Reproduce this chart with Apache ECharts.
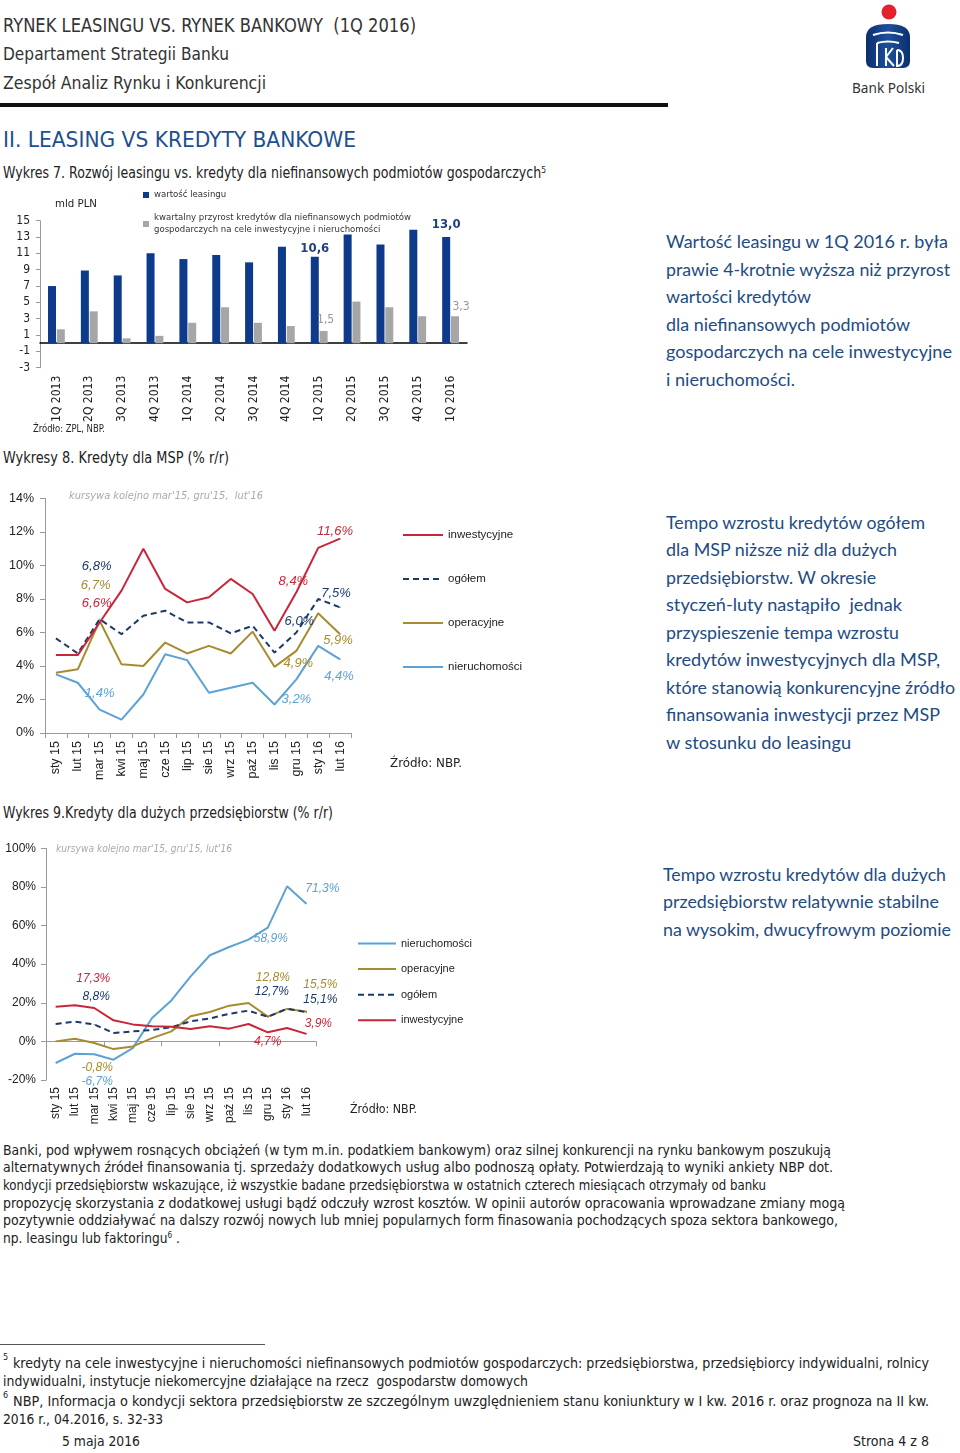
<!DOCTYPE html>
<html><head><meta charset="utf-8">
<script src="https://cdn.jsdelivr.net/npm/echarts@6/dist/echarts.min.js"></script>
<style>
html,body{margin:0;padding:0;background:#fff;}
#page{position:relative;width:960px;height:1453px;overflow:hidden;font-family:"Liberation Sans Narrow","DejaVu Sans Condensed","Liberation Sans",sans-serif;color:#222;}
.t{position:absolute;white-space:nowrap;transform-origin:0 50%;}
.sup{font-size:0.6em;position:relative;top:-0.55em;}
.c{position:absolute;}
.blue{font-family:Lato,"Open Sans",sans-serif;color:#1e4b82;}
</style></head><body><div id="page">
<div style="position:absolute;left:0;top:103px;width:668px;height:4px;background:#111;"></div>
<div style="position:absolute;left:0;top:1344px;width:265px;height:1px;background:#555;"></div>
<svg style="position:absolute;left:850px;top:0" width="110" height="100" viewBox="0 0 110 100">
  <defs><linearGradient id="g" x1="0" x2="1" y1="0" y2="0"><stop offset="0" stop-color="#0b2f6e"/><stop offset="0.5" stop-color="#1d4f9c"/><stop offset="1" stop-color="#0b2f6e"/></linearGradient></defs>
  <circle cx="39" cy="12" r="7.5" fill="#e3232c"/>
  <path d="M16,37 Q16,24 38,24 Q60,24 60,37 L60,61 Q60,68 53,68 L23,68 Q16,68 16,61 Z" fill="url(#g)"/>
  <path d="M23,35 Q38,30 53,35" stroke="#fff" stroke-width="2.2" fill="none"/>
  <path d="M27,43 L27,66 M27,43 Q38,40 49,43" stroke="#fff" stroke-width="2" fill="none"/>
  <path d="M36,48 L36,66 M36,57 L43,48 M36,57 L44,66" stroke="#fff" stroke-width="2" fill="none"/>
  <path d="M47,50 L47,66 Q53,66 53,58 Q53,50 47,50" stroke="#fff" stroke-width="2" fill="none"/>
</svg>
<div id="c1" class="c" style="left:0;top:185px;width:480px;height:250px;"></div>
<div id="c2" class="c" style="left:0;top:480px;width:560px;height:310px;"></div>
<div id="c3" class="c" style="left:0;top:830px;width:560px;height:300px;"></div>
</div>
<script>
// ---------- DATA ----------
const quarters = ['1Q 2013','2Q 2013','3Q 2013','4Q 2013','1Q 2014','2Q 2014','3Q 2014','4Q 2014','1Q 2015','2Q 2015','3Q 2015','4Q 2015','1Q 2016'];
const leasingValue = [7.0, 8.9, 8.3, 11.0, 10.3, 10.8, 9.9, 11.8, 10.6, 13.3, 12.1, 13.9, 13.0];
const creditGrowth = [1.7, 3.9, 0.6, 0.9, 2.5, 4.4, 2.5, 2.1, 1.5, 5.1, 4.4, 3.3, 3.3];
const leasingTicks = [-3, -1, 1, 3, 5, 7, 9, 11, 13, 15];
const leasingLabelled = [8, 12];

const months = ['sty 15','lut 15','mar 15','kwi 15','maj 15','cze 15','lip 15','sie 15','wrz 15','paź 15','lis 15','gru 15','sty 16','lut 16'];
const mspInwestycyjne = [4.65, 4.65, 6.6, 8.5, 11.0, 8.6, 7.8, 8.1, 9.2, 8.3, 6.1, 8.4, 11.05, 11.6];
const mspOgolem = [5.65, 4.75, 6.8, 5.9, 7.0, 7.3, 6.6, 6.6, 5.95, 6.4, 4.8, 6.0, 8.0, 7.5];
const mspOperacyjne = [3.6, 3.8, 6.7, 4.1, 4.0, 5.4, 4.75, 5.2, 4.75, 6.05, 3.95, 4.9, 7.15, 5.9];
const mspNieruchomosci = [3.5, 3.0, 1.4, 0.8, 2.3, 4.7, 4.35, 2.4, 2.7, 3.0, 1.7, 3.2, 5.2, 4.4];

const dpNieruchomosci = [-11.2, -6.4, -6.7, -9.5, -3.5, 12.1, 21.2, 33.7, 44.6, 48.9, 52.7, 58.9, 80.3, 71.3];
const dpOperacyjne = [0.0, 1.4, -0.8, -4.0, -2.6, 1.7, 5.2, 13.0, 15.2, 18.5, 19.9, 12.8, 16.8, 15.5];
const dpOgolem = [9.0, 10.2, 8.8, 4.3, 5.2, 5.9, 7.4, 10.4, 11.9, 14.3, 15.9, 12.7, 16.9, 15.1];
const dpInwestycyjne = [18.0, 18.7, 17.3, 10.9, 8.8, 7.8, 7.6, 6.4, 7.8, 6.6, 9.0, 4.7, 6.9, 3.9];
const labelledMonths = [2, 11, 13];

// ---------- TEXT ----------
const page = document.getElementById('page');
function put(x, y, size, width, html, cls, style) {
  const d = document.createElement('div');
  d.className = 't ' + (cls || '');
  const lh = Math.round(size * 1.25);
  d.style.left = x + 'px';
  d.style.fontSize = size + 'px';
  d.style.lineHeight = lh + 'px';
  d.style.top = (y - lh / 2) + 'px';
  Object.assign(d.style, style || {});
  d.innerHTML = html;
  page.appendChild(d);
  if (width) { const w = d.getBoundingClientRect().width; if (w > 0) d.style.transform = 'scaleX(' + (width / w) + ')'; }
}
put(3, 25, 20, 413, 'RYNEK LEASINGU VS. RYNEK BANKOWY&nbsp; (1Q 2016)', '', {color:'#333'});
put(3, 53, 18, 226, 'Departament Strategii Banku', '', {color:'#333'});
put(3, 82, 18, 263, 'Zespół Analiz Rynku i Konkurencji', '', {color:'#333'});
put(3, 140, 22, 353, 'II. LEASING VS KREDYTY BANKOWE', '', {color:'#1d4f91'});
put(3, 173, 15, 543, 'Wykres 7. Rozwój leasingu vs. kredyty dla niefinansowych podmiotów gospodarczych<span class="sup">5</span>', '', {color:'#222'});
put(3, 458, 15, 226, 'Wykresy 8. Kredyty dla MSP (% r/r)');
put(3, 813, 15, 330, 'Wykres 9.Kredyty dla dużych przedsiębiorstw (% r/r)');

put(55, 204, 11, 42, 'mld PLN');
put(33, 428, 10, 72, 'Źródło: ZPL, NBP.');
put(390, 763, 12, 72, 'Źródło: NBP.');
put(350, 1109, 11.5, 67, 'Źródło: NBP.');
put(69, 496, 11, 194, "kursywa kolejno mar'15, gru'15,&nbsp; lut'16", '', {color:'#aaa', fontStyle:'italic'});
put(56, 848, 10, 176, "kursywa kolejno mar'15, gru'15, lut'16", '', {color:'#aaa', fontStyle:'italic'});

const blue1 = [[241,'Wartość leasingu w 1Q 2016 r. była',948],[269,'prawie 4-krotnie wyższa niż przyrost',950],[296,'wartości kredytów',811],[324,'dla niefinansowych podmiotów',910],[351,'gospodarczych na cele inwestycyjne',952],[379,'i nieruchomości.',795]];
blue1.forEach(l => put(666, l[0], 18, l[2]-666, l[1], 'blue'));
const blue2 = [[522,'Tempo wzrostu kredytów ogółem',925],[549,'dla MSP niższe niż dla dużych',897],[577,'przedsiębiorstw. W okresie',876],[604,'styczeń-luty nastąpiło&nbsp; jednak',902],[632,'przyspieszenie tempa wzrostu',899],[659,'kredytów inwestycyjnych dla MSP,',940],[687,'które stanowią konkurencyjne źródło',955],[714,'finansowania inwestycji przez MSP',940],[742,'w stosunku do leasingu',851]];
blue2.forEach(l => put(666, l[0], 18, l[2]-666, l[1], 'blue'));
const blue3 = [[874,'Tempo wzrostu kredytów dla dużych',946],[901,'przedsiębiorstw relatywnie stabilne',939],[929,'na wysokim, dwucyfrowym poziomie',951]];
blue3.forEach(l => put(663, l[0], 18, l[2]-663, l[1], 'blue'));

const para = [[1150,'Banki, pod wpływem rosnących obciążeń (w tym m.in. podatkiem bankowym) oraz silnej konkurencji na rynku bankowym poszukują',831],
[1167,'alternatywnych źródeł finansowania tj. sprzedaży dodatkowych usług albo podnoszą opłaty. Potwierdzają to wyniki ankiety NBP dot.',833],
[1185,'kondycji przedsiębiorstw wskazujące, iż wszystkie badane przedsiębiorstwa w ostatnich czterech miesiącach otrzymały od banku',766],
[1203,'propozycję skorzystania z dodatkowej usługi bądź odczuły wzrost kosztów. W opinii autorów opracowania wprowadzane zmiany mogą',845],
[1220,'pozytywnie oddziaływać na dalszy rozwój nowych lub mniej popularnych form finasowania pochodzących spoza sektora bankowego,',838],
[1238,'np. leasingu lub faktoringu<span class="sup">6</span> .',180]];
para.forEach(l => put(3, l[0], 14, l[2]-3, l[1]));

put(3, 1357, 9, 0, '5');
put(13, 1363, 13.5, 916, 'kredyty na cele inwestycyjne i nieruchomości niefinansowych podmiotów gospodarczych: przedsiębiorstwa, przedsiębiorcy indywidualni, rolnicy');
put(3, 1381, 13.5, 525, 'indywidualni, instytucje niekomercyjne działające na rzecz&nbsp; gospodarstw domowych');
put(3, 1395, 9, 0, '6');
put(13, 1401, 13.5, 916, 'NBP, Informacja o kondycji sektora przedsiębiorstw ze szczególnym uwzględnieniem stanu koniunktury w I kw. 2016 r. oraz prognoza na II kw.');
put(3, 1419, 13.5, 160, '2016 r., 04.2016, s. 32-33');
put(62, 1441, 13.5, 78, '5 maja 2016');
put(853, 1441, 13.5, 76, 'Strona 4 z 8');
put(852, 87, 14.5, 73, 'Bank Polski', '', {fontFamily:'"Noto Sans",sans-serif', color:'#333'});

// ---------- CHART 1 ----------
const narrow = '"Liberation Sans Narrow","DejaVu Sans Condensed","Liberation Sans",sans-serif';
const c1 = echarts.init(document.getElementById('c1'));
const fmt1 = p => p.value.toFixed(1).replace('.', ',');
c1.setOption({
  animation: false,
  textStyle: {fontFamily: narrow},
  grid: {left: 40, right: 13, top: 35.7, bottom: 67.3},
  legend: {orient: 'vertical', left: 143, top: 4, padding: 0, itemGap: 11, itemWidth: 6, itemHeight: 6, icon: 'rect',
    textStyle: {fontSize: 9.5, color: '#333', lineHeight: 12, fontFamily: narrow},
    data: ['wartość leasingu', 'kwartalny przyrost kredytów dla niefinansowych podmiotów\ngospodarczych na cele inwestycyjne i nieruchomości']},
  xAxis: [
    {type: 'category', data: quarters, axisLine: {onZero: true, lineStyle: {color: '#000', width: 1.5}}, axisTick: {show: false}, axisLabel: {show: false}, splitLine: {show: false}},
    {type: 'category', data: quarters, position: 'bottom', axisLine: {show: false, onZero: false}, axisTick: {show: false}, splitLine: {show: false},
     axisLabel: {rotate: 90, fontSize: 12, margin: 8, color: '#222', interval: 0}}
  ],
  yAxis: {type: 'value', min: -3, max: 15, splitLine: {show: false},
    axisLine: {show: true, lineStyle: {color: '#9a9a9a'}},
    axisTick: {show: true, length: 4, customValues: leasingTicks, lineStyle: {color: '#9a9a9a'}},
    axisLabel: {customValues: leasingTicks, fontSize: 12, color: '#222', margin: 10}},
  series: [
    {name: 'wartość leasingu', type: 'bar', barWidth: 8, barGap: '10%', itemStyle: {color: '#0d3a8a'},
     data: leasingValue.map((v, i) => leasingLabelled.includes(i) ? {value: v, label: {show: true, position: 'top', distance: i === 12 ? 6 : 2, formatter: fmt1, fontSize: 13, fontWeight: 'bold', color: '#1f3f7f'}} : v)},
    {name: 'kwartalny przyrost kredytów dla niefinansowych podmiotów\ngospodarczych na cele inwestycyjne i nieruchomości', type: 'bar', barWidth: 8, itemStyle: {color: '#a6a6a6'},
     data: creditGrowth.map((v, i) => leasingLabelled.includes(i) ? {value: v, label: {show: true, position: 'top', distance: i === 12 ? 3 : 5, offset: i === 12 ? [6, 0] : [2, 0], formatter: fmt1, fontSize: 12, color: '#999'}} : v)}
  ]
});

// ---------- CHARTS 2 & 3 ----------
const COL = {inw: '#c8263a', og: '#1b3a6b', op: '#a68b2f', nie: '#5da2d5'};
const fmtPct = p => p.value.toFixed(1).replace('.', ',') + '%';
function lineSeries(name, data, color, dashed, offsets, fs) {
  return {name, type: 'line', data: data.map((v, i) => {
      const k = labelledMonths.indexOf(i);
      if (k < 0) return v;
      return {value: v, symbol: 'circle', symbolSize: 1, itemStyle: {color},
        label: {show: true, position: 'inside', offset: offsets[k], formatter: fmtPct, fontSize: fs, fontStyle: 'italic', color, fontFamily: '"Liberation Sans",sans-serif'}};
    }),
    symbol: 'none', showSymbol: true, lineStyle: {color, width: 2, type: dashed ? [6, 4] : 'solid'}, itemStyle: {color}, z: 2};
}
const axisFont = '"Liberation Sans",sans-serif';

const c2 = echarts.init(document.getElementById('c2'));
const off2 = {inw: [[-3,-19.5],[-3,-11],[-5,-7]], og: [[-3,-53],[3,-11],[-4,-14]], op: [[-4,-35],[2,12],[-2,6]], nie: [[0,-16.5],[0,20],[-1,17]]};
c2.setOption({
  animation: false,
  textStyle: {fontFamily: axisFont},
  grid: {left: 45, right: 209, top: 18.5, bottom: 57},
  legend: {orient: 'vertical', left: 402, top: 49, padding: 0, itemGap: 32, itemWidth: 40, itemHeight: 14,
    itemStyle: {opacity: 0},
    textStyle: {fontSize: 11.5, color: '#222', fontFamily: axisFont},
    data: ['inwestycyjne', 'ogółem', 'operacyjne', 'nieruchomości']},
  xAxis: {type: 'category', data: months, boundaryGap: true,
    axisLine: {lineStyle: {color: '#999'}}, axisTick: {show: true, length: 5, lineStyle: {color: '#999'}},
    axisLabel: {rotate: 90, fontSize: 12.5, margin: 8, color: '#222', interval: 0}},
  yAxis: {type: 'value', min: 0, max: 14, interval: 2, splitLine: {show: false},
    axisLine: {show: true, lineStyle: {color: '#999'}}, axisTick: {show: true, length: 5, lineStyle: {color: '#999'}},
    axisLabel: {formatter: v => v + '%', fontSize: 12.5, color: '#222', margin: 11}},
  series: [
    lineSeries('nieruchomości', mspNieruchomosci, COL.nie, false, off2.nie, 13),
    lineSeries('operacyjne', mspOperacyjne, COL.op, false, off2.op, 13),
    lineSeries('ogółem', mspOgolem, COL.og, true, off2.og, 13),
    lineSeries('inwestycyjne', mspInwestycyjne, COL.inw, false, off2.inw, 13)
  ]
});

const c3 = echarts.init(document.getElementById('c3'));
const off3 = {inw: [[-1,-29],[0,9],[12,-10]], og: [[2,-28],[4,-25],[14,-13]], op: [[3,25],[5,-39],[14,-27]], nie: [[3,27],[3,11],[16,-15]]};
c3.setOption({
  animation: false,
  textStyle: {fontFamily: axisFont},
  grid: {left: 46, right: 244, top: 18.3, bottom: 50},
  legend: {orient: 'vertical', left: 357, top: 108, padding: 0, itemGap: 14.6, itemWidth: 38, itemHeight: 12,
    itemStyle: {opacity: 0},
    textStyle: {fontSize: 11, color: '#222', fontFamily: axisFont},
    data: ['nieruchomości', 'operacyjne', 'ogółem', 'inwestycyjne']},
  xAxis: [
    {type: 'category', data: months, boundaryGap: true, axisLine: {onZero: true, lineStyle: {color: '#999'}},
     axisTick: {show: true, length: 5, lineStyle: {color: '#999'}}, axisLabel: {show: false}},
    {type: 'category', data: months, boundaryGap: true, position: 'bottom', axisLine: {show: false, onZero: false}, axisTick: {show: false},
     axisLabel: {rotate: 90, fontSize: 12, margin: 7, color: '#222', interval: 0}}
  ],
  yAxis: {type: 'value', min: -20, max: 100, interval: 20, splitLine: {show: false},
    axisLine: {show: true, lineStyle: {color: '#999'}}, axisTick: {show: true, length: 5, lineStyle: {color: '#999'}},
    axisLabel: {formatter: v => v + '%', fontSize: 12, color: '#222', margin: 10}},
  series: [
    lineSeries('nieruchomości', dpNieruchomosci, COL.nie, false, off3.nie, 12),
    lineSeries('operacyjne', dpOperacyjne, COL.op, false, off3.op, 12),
    lineSeries('ogółem', dpOgolem, COL.og, true, off3.og, 12),
    lineSeries('inwestycyjne', dpInwestycyjne, COL.inw, false, off3.inw, 12)
  ]
});
</script>
</body></html>
